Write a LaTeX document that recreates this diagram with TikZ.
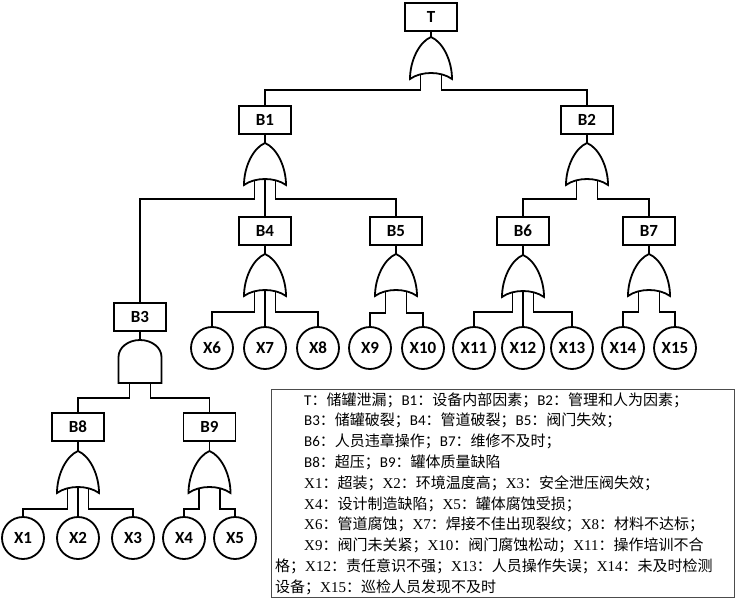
\documentclass[tikz,border=0pt]{standalone}
\usepackage{fontspec}
\newfontfamily\calfont{Carlito}
\newfontfamily\tmsfont{Liberation Serif}
\newfontfamily\cjkfont{Noto Sans CJK SC}
\newcommand\zh[1]{{\cjkfont #1}}
\tikzset{
  ln/.style={line width=1.8pt, line join=miter},
  evt/.style={ln, draw, rectangle, minimum width=52pt, minimum height=28pt, inner sep=0pt, font=\calfont\bfseries\fontsize{17}{20}\selectfont},
  bas/.style={ln, draw, circle, minimum size=42pt, inner sep=0pt, font=\calfont\bfseries\fontsize{17}{20}\selectfont},
  conn/.style={ln},
  lgA/.style={anchor=base west, inner sep=0pt, font=\calfont\fontsize{15}{18}\selectfont},
  lgB/.style={anchor=base west, inner sep=0pt, font=\tmsfont\fontsize{15}{18}\selectfont},
  orgate/.pic={
    \draw[ln, fill=white] (0,0) .. controls (12,5) and (21,24) .. (21,42)
      .. controls (10,34) and (-10,34) .. (-21,42)
      .. controls (-21,24) and (-12,5) .. cycle;
    \coordinate (-top) at (0,0);
    \coordinate (-l) at (-10.5,37.4);
    \coordinate (-m) at (0,36);
    \coordinate (-r) at (10.5,37.4);
  },
  andgate/.pic={
    \draw[ln, fill=white] (-21.5,43) -- (-21.5,17)
      .. controls (-21.5,7.6) and (-11.9,0) .. (0,0)
      .. controls (11.9,0) and (21.5,7.6) .. (21.5,17) -- (21.5,43) -- cycle;
    \coordinate (-top) at (0,0);
    \coordinate (-l) at (-10.5,43);
    \coordinate (-r) at (10.5,43);
  }
}
\newcommand\legto[3]{\draw[conn] (#1) -- (#1 |- 0,#3) -| (#2.north);}
\begin{document}
\begin{tikzpicture}[x=1pt,y=-1pt]
\useasboundingbox (0,0) rectangle (736,602);
% events
\node[evt] (T) at (431,17) {T};
\node[evt] (B1) at (265,120) {B1};
\node[evt] (B2) at (587,120) {B2};
\node[evt] (B3) at (140,317) {B3};
\node[evt] (B4) at (265,231) {B4};
\node[evt] (B5) at (396,231) {B5};
\node[evt] (B6) at (523,231) {B6};
\node[evt] (B7) at (649,231) {B7};
\node[evt] (B8) at (78,427) {B8};
\node[evt] (B9) at (209.5,427) {B9};
% basic events
\node[bas] (X1) at (23,538) {X1};
\node[bas] (X2) at (78,538) {X2};
\node[bas] (X3) at (133,538) {X3};
\node[bas] (X4) at (184,538) {X4};
\node[bas] (X5) at (235,538) {X5};
\node[bas] (X6) at (212,348) {X6};
\node[bas] (X7) at (265,348) {X7};
\node[bas] (X8) at (318,348) {X8};
\node[bas] (X9) at (370,348) {X9};
\node[bas] (X10) at (423,348) {X10};
\node[bas] (X11) at (474,348) {X11};
\node[bas] (X12) at (523,348) {X12};
\node[bas] (X13) at (572,348) {X13};
\node[bas] (X14) at (623,348) {X14};
\node[bas] (X15) at (675,348) {X15};
% gates
\pic (gT) at (431,37) {orgate};
\pic (gB1) at (265,143) {orgate};
\pic (gB2) at (587,143) {orgate};
\pic (gB3) at (140,340) {andgate};
\pic (gB4) at (265,254) {orgate};
\pic (gB5) at (396,254) {orgate};
\pic (gB6) at (523,255) {orgate};
\pic (gB7) at (649,254) {orgate};
\pic (gB8) at (78,451) {orgate};
\pic (gB9) at (209.5,451) {orgate};
% stems
\foreach \e in {T,B1,B2,B3,B4,B5,B6,B7,B8,B9}{\draw[conn] (\e.south) -- (g\e-top);}
% legs
\legto{gT-l}{B1}{90}
\legto{gT-r}{B2}{90}
\legto{gB1-l}{B3}{199}
\draw[conn] (gB1-m) -- (B4.north);
\legto{gB1-r}{B5}{199}
\legto{gB2-l}{B6}{199}
\legto{gB2-r}{B7}{199}
\legto{gB3-l}{B8}{398}
\legto{gB3-r}{B9}{398}
\legto{gB4-l}{X6}{312}
\draw[conn] (gB4-m) -- (X7.north);
\legto{gB4-r}{X8}{312}
\legto{gB5-l}{X9}{313}
\legto{gB5-r}{X10}{313}
\legto{gB6-l}{X11}{312}
\draw[conn] (gB6-m) -- (X12.north);
\legto{gB6-r}{X13}{312}
\legto{gB7-l}{X14}{312}
\legto{gB7-r}{X15}{312}
\legto{gB8-l}{X1}{509}
\draw[conn] (gB8-m) -- (X2.north);
\legto{gB8-r}{X3}{509}
\legto{gB9-l}{X4}{509}
\legto{gB9-r}{X5}{509}
% legend
\node[draw=black!70, line width=0.9pt, rectangle, anchor=north west, minimum width=463pt, minimum height=208pt, inner sep=0pt] (legend) at (271,389) {};
\node[lgA] (l1) at (304,405) {T\zh{：储罐泄漏；}B1\zh{：设备内部因素；}B2\zh{：管理和人为因素；}};
\node[lgA] (l2) at (304,425.8) {B3\zh{：储罐破裂；}B4\zh{：管道破裂；}B5\zh{：阀门失效；}};
\node[lgA] (l3) at (304,446.6) {B6\zh{：人员违章操作；}B7\zh{：维修不及时；}};
\node[lgA] (l4) at (304,467.4) {B8\zh{：超压；}B9\zh{：罐体质量缺陷}};
\node[lgB] (l5) at (304,488.2) {X1\zh{：超装；}X2\zh{：环境温度高；}X3\zh{：安全泄压阀失效；}};
\node[lgB] (l6) at (304,509) {X4\zh{：设计制造缺陷；}X5\zh{：罐体腐蚀受损；}};
\node[lgB] (l7) at (304,529.8) {X6\zh{：管道腐蚀；}X7\zh{：焊接不佳出现裂纹；}X8\zh{：材料不达标；}};
\node[lgB] (l8) at (304,550.6) {X9\zh{：阀门未关紧；}X10\zh{：阀门腐蚀松动；}X11\zh{：操作培训不合}};
\node[lgB] (l9) at (275,571.4) {\zh{格；}X12\zh{：责任意识不强；}X13\zh{：人员操作失误；}X14\zh{：未及时检测}};
\node[lgB] (l10) at (275,592.2) {\zh{设备；}X15\zh{：巡检人员发现不及时}};
\end{tikzpicture}
\end{document}
